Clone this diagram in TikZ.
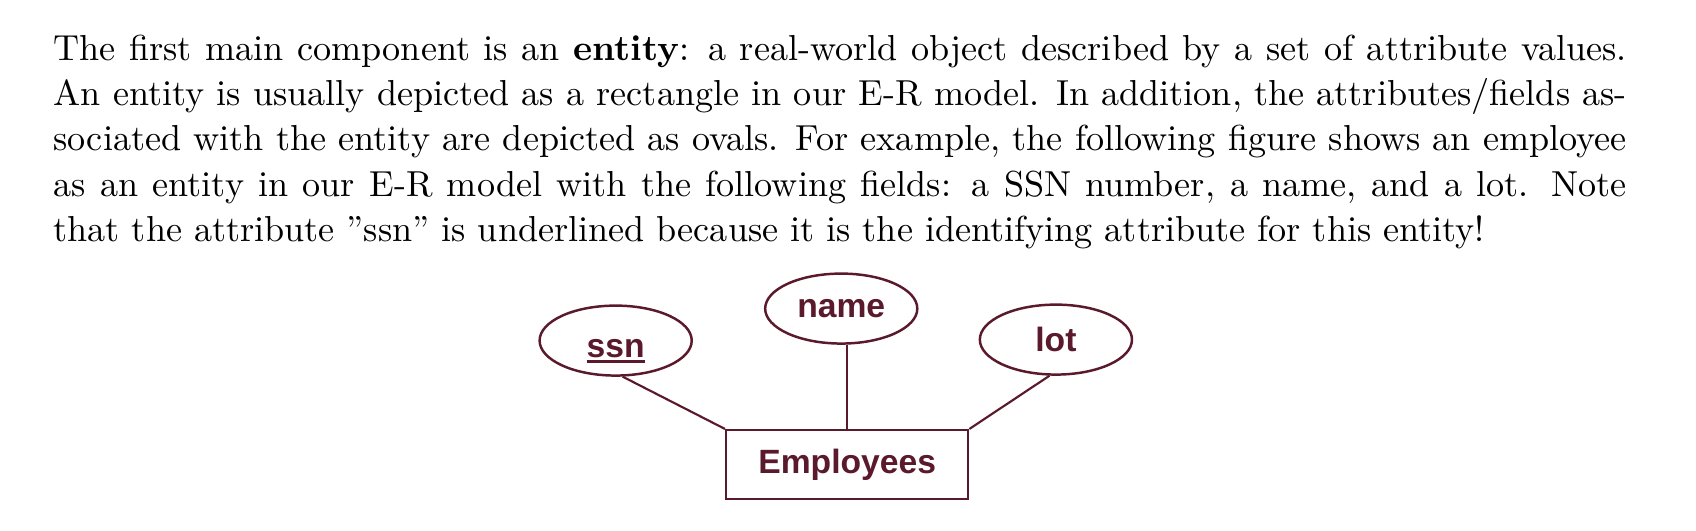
\documentclass[tikz,border=0pt]{standalone}
\usepackage{fontspec}
\usepackage{tikz}
\usetikzlibrary{shapes.geometric, positioning}

\newfontfamily\erfont{Liberation Sans}
\definecolor{ermaroon}{HTML}{5A1A2C}
\newcommand{\keyattr}[1]{\setbox0\hbox{#1}\rlap{\copy0}\rule[-1.6pt]{\wd0}{1pt}}

\begin{document}
\begin{tikzpicture}[
	attr/.style={ellipse, draw=ermaroon, line width=0.75pt, minimum width=46.1pt, minimum height=21.2pt, inner sep=0pt},
	entity/.style={rectangle, draw=ermaroon, line width=0.75pt, minimum width=73.3pt, minimum height=20.9pt, inner sep=0pt},
	erlabel/.style={text=ermaroon, font=\erfont\bfseries\fontsize{10.2}{12}\selectfont},
	link/.style={draw=ermaroon, line width=0.65pt}
]
	\useasboundingbox (0,0) rectangle (513.9pt,-160.6pt);
	\node (para) [anchor=north west, inner sep=0pt, text width=476.7pt, align=justify,
		font=\fontsize{10.95}{13.7}\selectfont] at (16.06pt,-10.4pt)
		{The first main component is an \textbf{entity}: a real-world object described by a set of attribute values.\linebreak
		An entity is usually depicted as a rectangle in our E-R model. In addition, the attributes/fields as-\linebreak
		sociated with the entity are depicted as ovals. For example, the following figure shows an employee\linebreak
		as an entity in our E-R model with the following fields: a SSN number, a name, and a lot. Note\linebreak
		that the attribute ''ssn'' is underlined because it is the identifying attribute for this entity!};
	\node (emp) [entity, erlabel] at (256.7pt,-140.8pt) {Employees};
	\node (ename) [attr, erlabel, above=25.5pt of emp, xshift=-1.8pt] {name};
	\node (ssn) [attr, erlabel, left=21.5pt of ename, yshift=-9.7pt, text height=10.3pt, text depth=0pt] {\keyattr{ssn}};
	\node (lot) [attr, erlabel, right=18.2pt of ename, yshift=-9.4pt] {lot};
	\path [link]
		(ssn.281) edge (emp.north west)
		(emp.north) edge (emp.north |- ename.south)
		(lot.260) edge (emp.north east)
	;
\end{tikzpicture}
\end{document}
